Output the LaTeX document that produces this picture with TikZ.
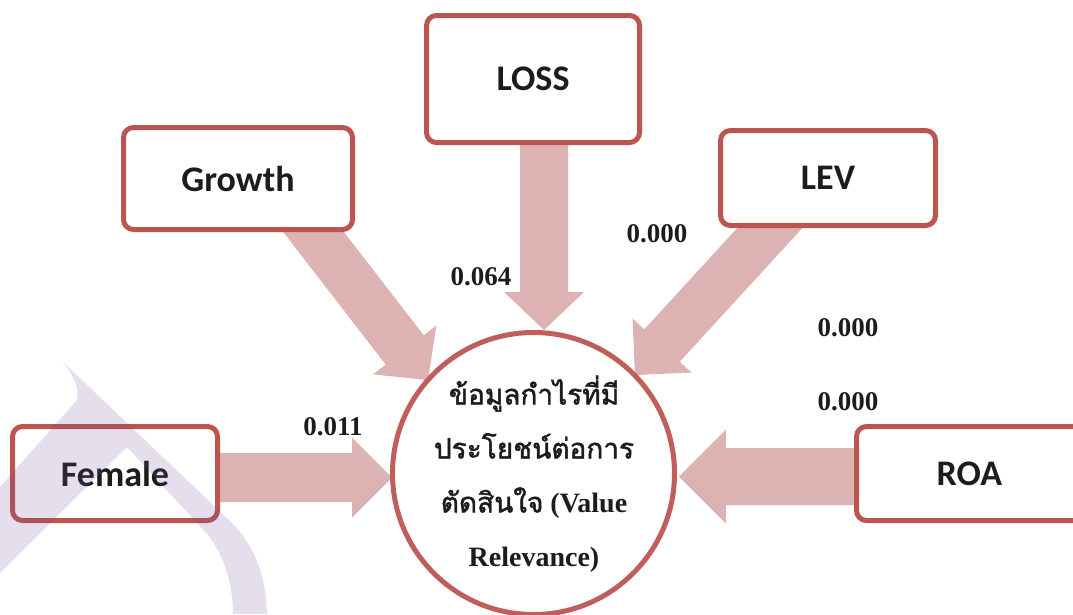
\documentclass[tikz,border=0pt]{standalone}
\usepackage{fontspec}
\setmainfont{Liberation Serif}
\newfontfamily\boxfont{Carlito}
\newfontfamily\thaifont[Script=Thai, FakeBold=1.6]{Loma}
\usetikzlibrary{calc}

\definecolor{boxline}{HTML}{BC5450}
\definecolor{arrowfill}{HTML}{DDB2B2}
\definecolor{ringline}{HTML}{BF5E5A}
\definecolor{inktext}{HTML}{1C1C1C}
\definecolor{markpurple}{HTML}{7050A0}

% block arrow: #1 tail, #2 tip, #3 half shaft width, #4 half head width, #5 head length
\newcommand\blockarrow[5]{%
  \coordinate (ba-h) at ($(#2)!#5!(#1)$);
  \fill[arrowfill]
    ($(#1)!#3!90:(#2)$) -- ($(ba-h)!#3!90:(#2)$) -- ($(ba-h)!#4!90:(#2)$) -- (#2)
    -- ($(ba-h)!#4!-90:(#2)$) -- ($(ba-h)!#3!-90:(#2)$) -- ($(#1)!#3!-90:(#2)$) -- cycle;
}

\tikzset{
  varbox/.style={draw=boxline, line width=5pt, rounded corners=10pt, fill=white,
    inner sep=0pt, text=inktext, font=\boxfont\bfseries\fontsize{36}{42}\selectfont},
  coef/.style={inner sep=0pt, text=inktext, font=\bfseries\fontsize{27}{32}\selectfont},
}

\begin{document}
\begin{tikzpicture}[x=1pt,y=-1pt]
\useasboundingbox (0,0) rectangle (1073,614);
\fill[white] (0,0) rectangle (1073,614);

% arrow ends
\coordinate (loss-s) at (544,120);
\coordinate (loss-t) at (544,330);
\coordinate (growth-s) at (295,208);
\coordinate (growth-t) at (428,380);
\coordinate (lev-s) at (790,206);
\coordinate (lev-t) at (635,375);
\coordinate (female-s) at (200,477.5);
\coordinate (female-t) at (392,477.5);
\coordinate (roa-s) at (880,476.5);
\coordinate (roa-t) at (679,476.5);

\blockarrow{loss-s}{loss-t}{24pt}{40pt}{38pt}
\blockarrow{growth-s}{growth-t}{24pt}{40pt}{38pt}
\blockarrow{lev-s}{lev-t}{24pt}{40pt}{40pt}
\blockarrow{female-s}{female-t}{24.5pt}{40pt}{40pt}
\blockarrow{roa-s}{roa-t}{28.5pt}{47pt}{47pt}

% variable boxes
\node[varbox, minimum width=213pt, minimum height=127pt] (loss) at (533,79) {LOSS};
\node[varbox, minimum width=229pt, minimum height=102pt] (growth) at (238,178.5) {Growth};
\node[varbox, minimum width=215pt, minimum height=95pt] (lev) at (828,178) {LEV};
\node[varbox, minimum width=205pt, minimum height=94pt] (female) at (115,473.5) {Female};
\node[varbox, minimum width=226pt, minimum height=94pt] (roa) at (969.5,473.5) {ROA};

% dependent variable
\node[circle, draw=ringline, line width=5pt, fill=white, minimum size=282pt, inner sep=0pt]
  (vr) at (533.5,473.5) {};
\node[text=inktext, align=center, inner sep=0pt,
      font=\bfseries\fontsize{28}{54}\selectfont] (vrtext) at (534,474)
  {{\thaifont\mdseries ข้อมูลกำไรที่มี}\\
   {\thaifont\mdseries ประโยชน์ต่อการ}\\
   {\thaifont\mdseries ตัดสินใจ} (Value\\
   Relevance)};

% coefficients
\node[coef] (c-loss) at (481,277) {0.064};
\node[coef] (c-lev) at (657,234) {0.000};
\node[coef] (c-a) at (848,328) {0.000};
\node[coef] (c-roa) at (848,402) {0.000};
\node[coef] (c-female) at (333,427) {0.011};

% background mark, lower left
\fill[markpurple, fill opacity=0.18]
  (63,362) .. controls (74,376) and (80,390) .. (77,400)
  -- (0,487) -- (0,573) -- (127,447) -- (208,535)
  .. controls (226,558) and (233,588) .. (233,614)
  -- (267,614) .. controls (266,578) and (256,548) .. (233,524)
  -- cycle;
\end{tikzpicture}
\end{document}
